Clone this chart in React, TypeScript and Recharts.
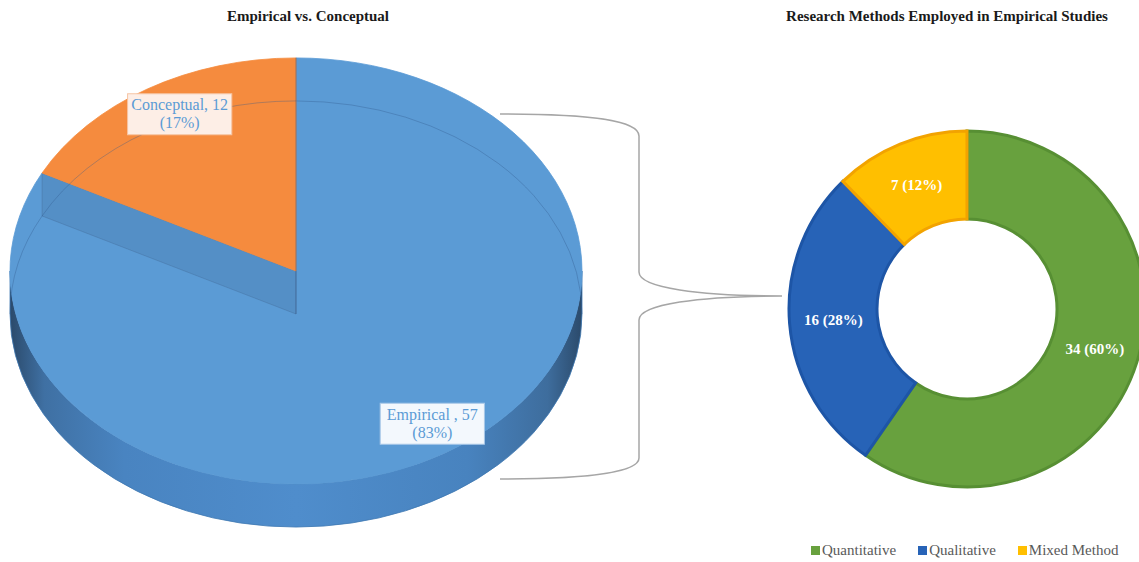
import React from 'react';
import { PieChart, Pie, Cell } from 'recharts';

const studyTypes = ['Empirical ', 'Conceptual'];
const studyCounts = [57, 12];
const methodNames = ['Quantitative', 'Qualitative', 'Mixed Method'];
const methodCounts = [34, 16, 7];

const studyColors = ['#5b9bd5', '#f58b3e'];
const studyBoxFill = ['#f3f8fd', '#fdeee6'];
const studyBoxStroke = ['#a9c9e8', '#f6c4a3'];
const methodColors = ['#68a13e', '#2763b7', '#ffbf00'];
const methodStrokes = ['#578f33', '#1d55a6', '#f2a300'];

const studyData = studyTypes.map((name, i) => ({ name, value: studyCounts[i] }));
const methodData = methodNames.map((name, i) => ({ name, value: methodCounts[i] }));

const RADIAN = Math.PI / 180;
const SQUASH = 0.745; // vertical squash of the 3d pie
const DEPTH = 43;
const FONT = '"Liberation Serif", "Times New Roman", serif';

// elliptical slice with a side wall, drawn from the sector geometry recharts gives
const Slice3D = (props: any) => {
  const { cx, cy, outerRadius, startAngle, endAngle, fill, index } = props;
  const rx = outerRadius;
  const ry = outerRadius * SQUASH;
  const pt = (a: number, dy = 0) => [cx + rx * Math.cos(a * RADIAN), cy - ry * Math.sin(a * RADIAN) + dy];
  const hi = Math.max(startAngle, endAngle);
  const lo = Math.min(startAngle, endAngle);
  const large = hi - lo > 180 ? 1 : 0;
  const [sx, sy] = pt(hi);
  const [ex, ey] = pt(lo);
  const top = `M${cx},${cy} L${sx},${sy} A${rx},${ry} 0 ${large} 1 ${ex},${ey} Z`;

  const walls: string[] = [];
  const rims: string[] = [];
  [-360, 0, 360].forEach((k) => {
    const a = Math.max(lo, -180 + k);
    const b = Math.min(hi, k);
    if (b > a) {
      const [x1, y1] = pt(b);
      const [x2, y2] = pt(a);
      const [x3, y3] = pt(a, DEPTH);
      const [x4, y4] = pt(b, DEPTH);
      walls.push(`M${x1},${y1} A${rx},${ry} 0 0 1 ${x2},${y2} L${x3},${y3} A${rx},${ry} 0 0 0 ${x4},${y4} Z`);
    }
    const a2 = Math.max(lo, k);
    const b2 = Math.min(hi, 180 + k);
    if (b2 > a2) {
      const [x1, y1] = pt(b2, DEPTH);
      const [x2, y2] = pt(a2, DEPTH);
      rims.push(`M${x1},${y1} A${rx},${ry} 0 0 1 ${x2},${y2}`);
    }
  });
  const [px, py] = pt(endAngle);
  const cut = `M${cx},${cy} L${px},${py} L${px},${py + DEPTH} L${cx},${cy + DEPTH} Z`;
  const gid = `side-${index}`;

  return (
    <g>
      <defs>
        <linearGradient id={gid} gradientUnits="userSpaceOnUse" x1={cx - rx} y1={0} x2={cx + rx} y2={0}>
          <stop offset="0%" stopColor="#2b4a6b" />
          <stop offset="6%" stopColor="#3f70a3" />
          <stop offset="20%" stopColor="#4984c1" />
          <stop offset="50%" stopColor="#4f8dcc" />
          <stop offset="80%" stopColor="#4883bf" />
          <stop offset="94%" stopColor="#3e6d9d" />
          <stop offset="100%" stopColor="#2b4a6b" />
        </linearGradient>
      </defs>
      {walls.map((d, i) => (
        <path key={`w${i}`} d={d} fill={`url(#${gid})`} stroke="#3f78b3" strokeWidth={0.8} />
      ))}
      <path d={top} fill={fill} stroke={fill} strokeWidth={0.8} />
      <path d={cut} fill="rgba(40,60,90,0.12)" stroke="rgba(60,90,130,0.35)" strokeWidth={0.8} />
      {rims.map((d, i) => (
        <path key={`r${i}`} d={d} fill="none" stroke="rgba(50,90,140,0.35)" strokeWidth={1} />
      ))}
    </g>
  );
};

const renderStudyLabel = (props: any) => {
  const { cx, cy, midAngle, outerRadius, percent, name, value, index } = props;
  const f = 0.85;
  const x = cx + outerRadius * f * Math.cos(-midAngle * RADIAN) + 10;
  const y = cy + outerRadius * SQUASH * f * Math.sin(-midAngle * RADIAN) - 2;
  const line1 = `${name}, ${value}`;
  const line2 = `(${Math.round(percent * 100)}%)`;
  const w = line1.length * 7.3 + 2;
  const h = 41;
  return (
    <g>
      <rect x={x - w / 2} y={y - h / 2} width={w} height={h} fill={studyBoxFill[index]} stroke={studyBoxStroke[index]} strokeWidth={1} />
      <text x={x} y={y - 4} textAnchor="middle" fill="#5b9bd5" fontSize={16} fontFamily={FONT}>
        {line1}
      </text>
      <text x={x} y={y + 14} textAnchor="middle" fill="#5b9bd5" fontSize={16} fontFamily={FONT}>
        {line2}
      </text>
    </g>
  );
};

const renderMethodLabel = (props: any) => {
  const { cx, cy, midAngle, innerRadius, outerRadius, percent, value } = props;
  const r = (innerRadius + outerRadius) / 2;
  const x = cx + r * Math.cos(-midAngle * RADIAN);
  const y = cy + r * Math.sin(-midAngle * RADIAN);
  return (
    <text x={x} y={y} textAnchor="middle" dominantBaseline="central" fill="#ffffff" fontSize={15} fontWeight="bold" fontFamily={FONT}>
      {`${value} (${Math.round(percent * 100)}%)`}
    </text>
  );
};

const titleStyle: React.CSSProperties = {
  position: 'absolute',
  fontFamily: FONT,
  fontWeight: 'bold',
  fontSize: 15,
  color: '#1a1a1a',
  textAlign: 'center',
  whiteSpace: 'nowrap',
  top: 8,
};

export default function App() {
  return (
    <div style={{ position: 'absolute', left: 0, top: 0, width: 1139, height: 562, background: '#fff', overflow: 'hidden' }}>
      <div style={{ ...titleStyle, left: 158, width: 300 }}>Empirical vs. Conceptual</div>
      <div style={{ ...titleStyle, left: 747, width: 400 }}>Research Methods Employed in Empirical Studies</div>

      <svg width={1139} height={562} style={{ position: 'absolute', left: 0, top: 0 }}>
        <path
          d="M500,114 C590,114 639,120 639,136 L639,272 C639,288 700,296 782,296 C700,296 639,304 639,320 L639,458 C639,472 590,479 500,479"
          fill="none"
          stroke="#a6a6a6"
          strokeWidth={1.5}
        />
      </svg>

      <div style={{ position: 'absolute', left: 0, top: 0 }}>
        <PieChart width={1139} height={562} margin={{ top: 0, right: 0, bottom: 0, left: 0 }}>
          <Pie
            data={studyData}
            dataKey="value"
            nameKey="name"
            cx={296}
            cy={271}
            outerRadius={286}
            startAngle={90}
            endAngle={-270}
            shape={Slice3D}
            inactiveShape={Slice3D}
            activeShape={Slice3D}
            label={renderStudyLabel}
            labelLine={false}
            isAnimationActive={false}
          >
            {studyData.map((d, i) => (
              <Cell key={d.name} fill={studyColors[i]} />
            ))}
          </Pie>
          <Pie
            data={methodData}
            dataKey="value"
            nameKey="name"
            cx={967}
            cy={309}
            innerRadius={90}
            outerRadius={178}
            startAngle={90}
            endAngle={-270}
            label={renderMethodLabel}
            labelLine={false}
            isAnimationActive={false}
          >
            {methodData.map((d, i) => (
              <Cell key={d.name} fill={methodColors[i]} stroke={methodStrokes[i]} strokeWidth={3} />
            ))}
          </Pie>
        </PieChart>
      </div>

      <div
        style={{
          position: 'absolute',
          left: 811,
          top: 541,
          display: 'flex',
          whiteSpace: 'nowrap',
          fontFamily: FONT,
          fontSize: 15,
          lineHeight: '18px',
          color: '#595959',
        }}
      >
        {methodNames.map((name, i) => (
          <div key={name} style={{ display: 'flex', alignItems: 'center', marginRight: 22 }}>
            <span style={{ display: 'inline-block', width: 9, height: 9, background: methodColors[i], marginRight: 2 }} />
            <span>{name}</span>
          </div>
        ))}
      </div>
    </div>
  );
}
